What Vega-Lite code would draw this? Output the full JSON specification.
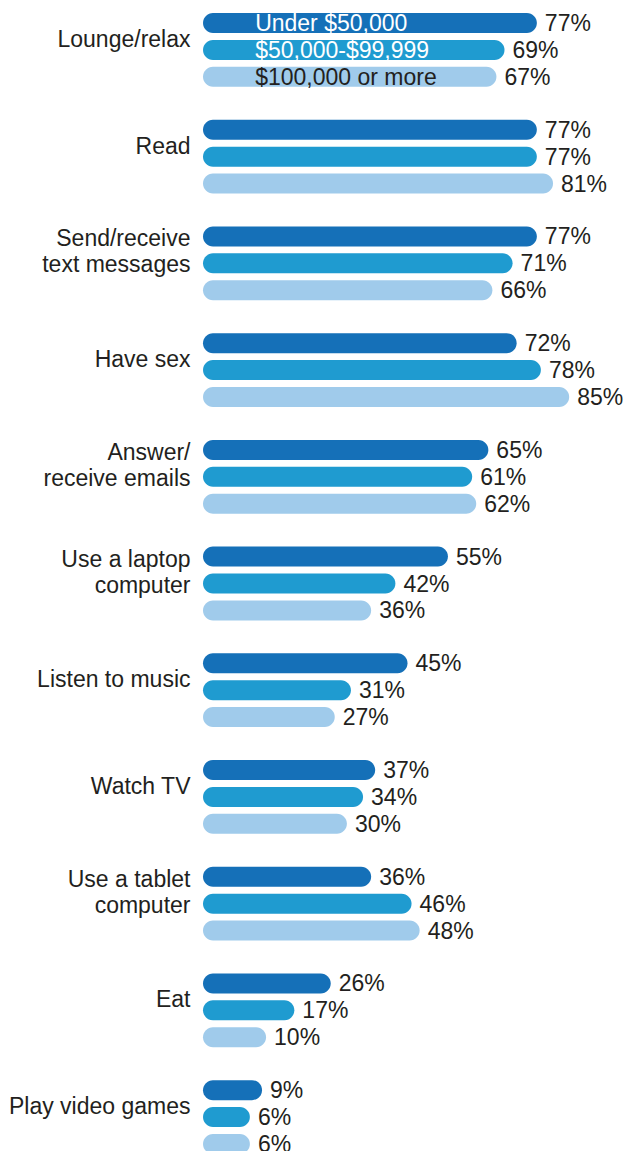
{
  "$schema": "https://vega.github.io/schema/vega-lite/v6.json",
  "autosize": {"type": "none"},
  "padding": {"left": 203, "top": 0, "right": 0, "bottom": 0},
  "width": 426,
  "height": 1151,
  "background": "white",
  "config": {"view": {"stroke": null}, "font": "Liberation Sans"},
  "data": {"values": [
    {"cat": "Lounge/relax", "group": "Under $50,000", "v": 77},
    {"cat": "Lounge/relax", "group": "$50,000-$99,999", "v": 69},
    {"cat": "Lounge/relax", "group": "$100,000 or more", "v": 67},
    {"cat": "Read", "group": "Under $50,000", "v": 77},
    {"cat": "Read", "group": "$50,000-$99,999", "v": 77},
    {"cat": "Read", "group": "$100,000 or more", "v": 81},
    {"cat": "Send/receive\ntext messages", "group": "Under $50,000", "v": 77},
    {"cat": "Send/receive\ntext messages", "group": "$50,000-$99,999", "v": 71},
    {"cat": "Send/receive\ntext messages", "group": "$100,000 or more", "v": 66},
    {"cat": "Have sex", "group": "Under $50,000", "v": 72},
    {"cat": "Have sex", "group": "$50,000-$99,999", "v": 78},
    {"cat": "Have sex", "group": "$100,000 or more", "v": 85},
    {"cat": "Answer/\nreceive emails", "group": "Under $50,000", "v": 65},
    {"cat": "Answer/\nreceive emails", "group": "$50,000-$99,999", "v": 61},
    {"cat": "Answer/\nreceive emails", "group": "$100,000 or more", "v": 62},
    {"cat": "Use a laptop\ncomputer", "group": "Under $50,000", "v": 55},
    {"cat": "Use a laptop\ncomputer", "group": "$50,000-$99,999", "v": 42},
    {"cat": "Use a laptop\ncomputer", "group": "$100,000 or more", "v": 36},
    {"cat": "Listen to music", "group": "Under $50,000", "v": 45},
    {"cat": "Listen to music", "group": "$50,000-$99,999", "v": 31},
    {"cat": "Listen to music", "group": "$100,000 or more", "v": 27},
    {"cat": "Watch TV", "group": "Under $50,000", "v": 37},
    {"cat": "Watch TV", "group": "$50,000-$99,999", "v": 34},
    {"cat": "Watch TV", "group": "$100,000 or more", "v": 30},
    {"cat": "Use a tablet\ncomputer", "group": "Under $50,000", "v": 36},
    {"cat": "Use a tablet\ncomputer", "group": "$50,000-$99,999", "v": 46},
    {"cat": "Use a tablet\ncomputer", "group": "$100,000 or more", "v": 48},
    {"cat": "Eat", "group": "Under $50,000", "v": 26},
    {"cat": "Eat", "group": "$50,000-$99,999", "v": 17},
    {"cat": "Eat", "group": "$100,000 or more", "v": 10},
    {"cat": "Play video games", "group": "Under $50,000", "v": 9},
    {"cat": "Play video games", "group": "$50,000-$99,999", "v": 6},
    {"cat": "Play video games", "group": "$100,000 or more", "v": 6}
  ]},
  "encoding": {
    "y": {
      "field": "cat", "type": "nominal", "sort": null,
      "scale": {"range": [0, 1167], "paddingInner": 0.244, "paddingOuter": 0.09},
      "axis": {
        "title": null, "domain": false, "ticks": false,
        "labelPadding": 13, "labelFontSize": 23, "labelColor": "#231f20",
        "labelFont": "Liberation Sans",
        "labelOffset": {"condition": {"test": "indexof(datum.value, '\\n') >= 0", "value": -24}, "value": -10},
        "labelLineHeight": 26,
        "labelExpr": "split(datum.label, '\\n')", "labelLimit": 300
      }
    },
    "yOffset": {
      "field": "group", "type": "nominal",
      "sort": ["Under $50,000", "$50,000-$99,999", "$100,000 or more"],
      "scale": {"paddingInner": 0.256, "paddingOuter": 0.128}
    }
  },
  "layer": [
    {
      "mark": {"type": "bar", "cornerRadius": 10},
      "encoding": {
        "x": {"field": "v", "type": "quantitative", "scale": {"domain": [-5.6, 99.8], "zero": false, "nice": false}, "axis": null},
        "x2": {"datum": -5.6},
        "color": {
          "field": "group", "type": "nominal",
          "scale": {"domain": ["Under $50,000", "$50,000-$99,999", "$100,000 or more"], "range": ["#1570b8", "#1f9bd0", "#a0cbeb"]},
          "legend": null
        }
      }
    },
    {
      "transform": [{"calculate": "datum.v + '%'", "as": "lab"}],
      "mark": {"type": "text", "align": "left", "baseline": "middle", "dx": 8, "dy": 1, "fontSize": 23, "color": "#231f20", "font": "Liberation Sans"},
      "encoding": {
        "x": {"field": "v", "type": "quantitative"},
        "text": {"field": "lab"}
      }
    },
    {
      "transform": [{"filter": "datum.cat === 'Lounge/relax'"}],
      "mark": {"type": "text", "align": "left", "baseline": "middle", "dy": 1, "fontSize": 23, "font": "Liberation Sans"},
      "encoding": {
        "x": {"datum": 7.3},
        "text": {"field": "group"},
        "color": {"condition": {"test": "datum.group === '$100,000 or more'", "value": "#231f20"}, "value": "white"}
      }
    }
  ]
}
